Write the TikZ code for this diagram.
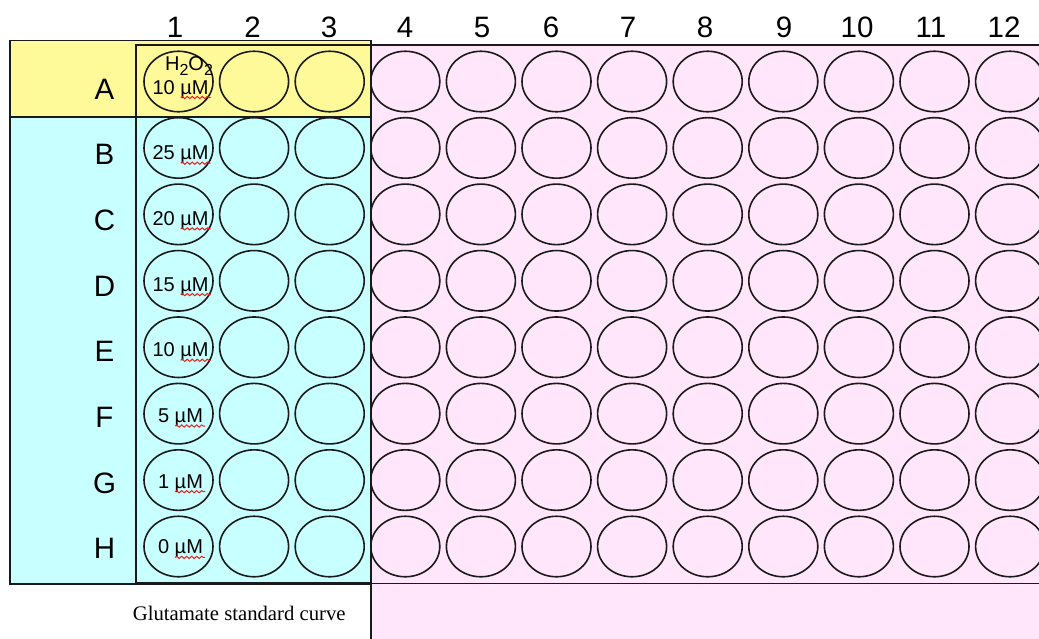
\documentclass[tikz,border=0pt]{standalone}
\usepackage{fontspec}
\setmainfont{Liberation Sans}
\newfontfamily\capfont{Liberation Serif}
\usetikzlibrary{shapes.geometric,decorations.pathmorphing}
\definecolor{PlateYellow}{HTML}{FFFA99}
\definecolor{PlateCyan}{HTML}{C8FFFF}
\definecolor{PlatePink}{HTML}{FFE6FA}
\definecolor{PlateInk}{HTML}{1A1A1A}
\definecolor{SpellRed}{HTML}{E8201C}
\tikzset{
  frame/.style={draw=PlateInk,line width=1.6pt},
  well/.style={ellipse,draw=PlateInk,line width=1.6pt,minimum width=69pt,
               minimum height=60.5pt,inner sep=0pt},
  rowlabel/.style={font=\fontsize{29.5}{34}\selectfont,anchor=base,inner sep=0pt},
  collabel/.style={rowlabel},
  conc/.style={font=\fontsize{20}{24}\selectfont,anchor=base,inner sep=0pt},
  squiggle/.style={draw=SpellRed,line width=1pt,decorate,
                   decoration={snake,amplitude=1.1pt,segment length=5pt}},
  platecaption/.style={font=\capfont\fontsize{20.7}{24}\selectfont,anchor=base,inner sep=0pt},
}
\newcommand{\subtwo}{\raisebox{-5pt}{\fontsize{16}{18}\selectfont 2}}

\begin{document}
\begin{tikzpicture}[x=1pt,y=-1pt]
    \clip (0,0) rectangle (1039,638);
    \fill[white] (0,0) rectangle (1039,638);
    \draw[frame,fill=PlatePink] (371,45) rectangle (1060,660);
    \draw[frame] (371,583.5) -- (1060,583.5);
    \draw[frame,fill=PlateYellow] (10,40.5) rectangle (371,117);
    \draw[frame,fill=PlateCyan] (10,117) rectangle (371,584);
    \draw[frame] (136,45) rectangle (371,583);

    \foreach \rw [count=\i from 0] in {A,B,C,D,E,F,G,H}{
      \node[rowlabel] (row\rw) at (104.5,99+65.7*\i) {\rw};
      \foreach \c in {1,...,12}
        \node[well] (\rw\c) at (102.9+75.6*\c,81.5+66.43*\i) {};
    }
    \foreach \c/\x in {1/175,2/252.5,3/329,4/405,5/482,6/551,7/628,8/705,9/784,10/857,11/931,12/1004}
      \node[collabel] (col\c) at (\x,37.5) {\c};

    \node[conc] (h2o2) at (189,70) {H\subtwo O\subtwo};
    \foreach \rw/\v [count=\i from 0] in {A/10,B/25,C/20,D/15,E/10,F/5,G/1,H/0}{
      \node[conc] (conc\rw) at (180.5,94+65.7*\i) {\v{} µM};
      \draw[squiggle] ([xshift=-28pt,yshift=-3.5pt]conc\rw.base east)
        -- ([xshift=2pt,yshift=-3.5pt]conc\rw.base east);
    }
    \node[platecaption] (caption) at (239.2,620.7) {Glutamate standard curve};
\end{tikzpicture}
\end{document}
